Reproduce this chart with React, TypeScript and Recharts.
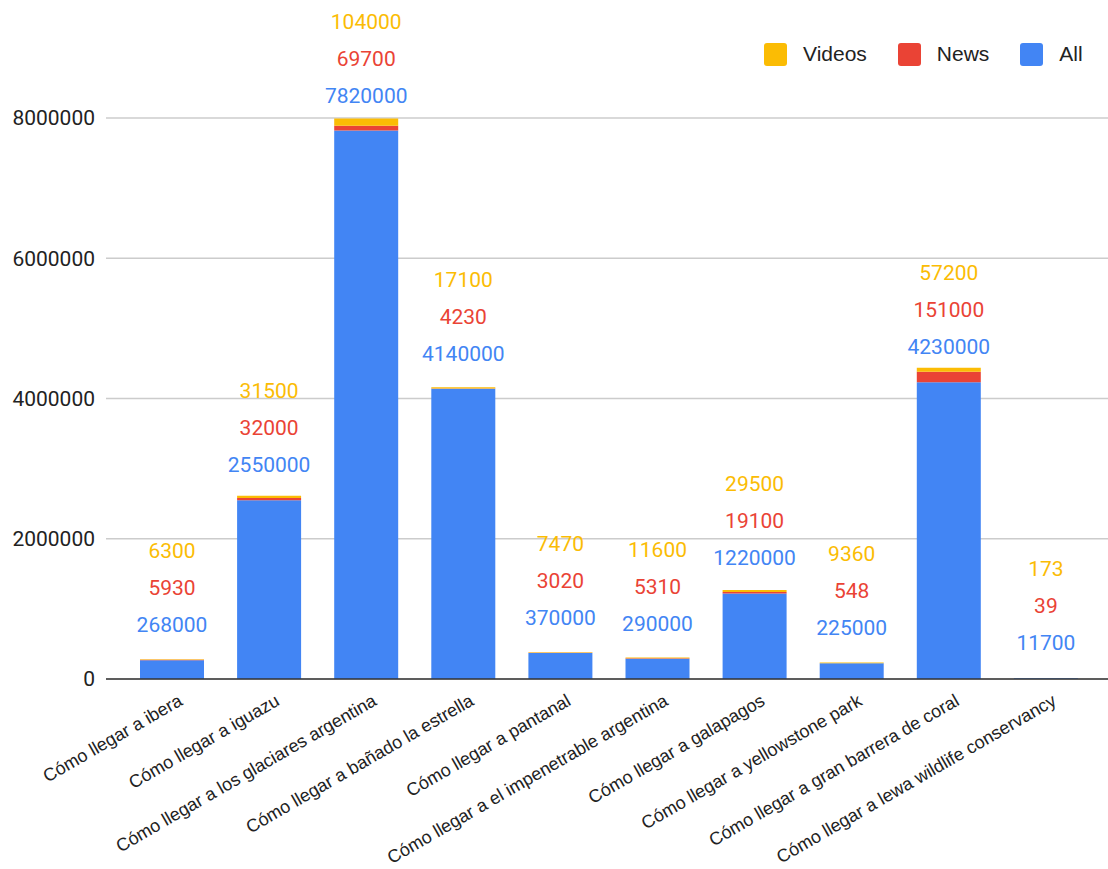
import React from "react";
import { BarChart, Bar, XAxis, YAxis, CartesianGrid, LabelList } from "recharts";

const categories = [
  "Cómo llegar a ibera",
  "Cómo llegar a iguazu",
  "Cómo llegar a los glaciares argentina",
  "Cómo llegar a bañado la estrella",
  "Cómo llegar a pantanal",
  "Cómo llegar a el impenetrable argentina",
  "Cómo llegar a galapagos",
  "Cómo llegar a yellowstone park",
  "Cómo llegar a gran barrera de coral",
  "Cómo llegar a lewa wildlife conservancy",
];
const allValues = [268000, 2550000, 7820000, 4140000, 370000, 290000, 1220000, 225000, 4230000, 11700];
const newsValues = [5930, 32000, 69700, 4230, 3020, 5310, 19100, 548, 151000, 39];
const videoValues = [6300, 31500, 104000, 17100, 7470, 11600, 29500, 9360, 57200, 173];
const yTicks = [0, 2000000, 4000000, 6000000, 8000000];

const series = [
  { key: "videos", name: "Videos", color: "#FBBC04" },
  { key: "news", name: "News", color: "#EA4335" },
  { key: "all", name: "All", color: "#4285F4" },
];
const colorOf = (k: string) => series.find((s) => s.key === k)!.color;

const data = categories.map((name, i) => ({
  name,
  all: allValues[i],
  news: newsValues[i],
  videos: videoValues[i],
}));

const VALUE_FONT = "Roboto, 'Noto Sans', sans-serif";
const TEXT_FONT = "'Liberation Sans', Arial, sans-serif";

// Annotations for all three series, stacked above the "All" segment
const StackLabels = (props: any) => {
  const { x, y, width, index } = props;
  const cx = Number(x) + Number(width) / 2;
  const top = Number(y);
  const rows = [
    { v: allValues[index], c: colorOf("all"), off: 35 },
    { v: newsValues[index], c: colorOf("news"), off: 72 },
    { v: videoValues[index], c: colorOf("videos"), off: 109 },
  ];
  return (
    <g>
      {rows.map((r, k) => (
        <text
          key={k}
          x={cx}
          y={top - r.off}
          textAnchor="middle"
          dominantBaseline="central"
          fill={r.c}
          fontFamily={VALUE_FONT}
          fontSize={21}
        >
          {r.v}
        </text>
      ))}
    </g>
  );
};

const CategoryTick = (props: any) => {
  const { x, y, payload } = props;
  return (
    <g transform={`translate(${x + 9},${y + 20})`}>
      <text
        textAnchor="end"
        dominantBaseline="central"
        transform="rotate(-30)"
        fill="#222"
        fontFamily={TEXT_FONT}
        fontSize={18}
      >
        {payload.value}
      </text>
    </g>
  );
};

export default function App() {
  return (
    <div style={{ position: "absolute", left: 0, top: 0, width: 1108, height: 869, background: "#fff" }}>
      <BarChart
        width={1108}
        height={869}
        data={data}
        margin={{ top: 118, right: 0, bottom: 0, left: 0 }}
      >
        <CartesianGrid vertical={false} stroke="#cccccc" strokeWidth={1.5} />
        <XAxis
          dataKey="name"
          interval={0}
          height={190}
          padding={{ left: 17, right: 14 }}
          tickLine={false}
          tickSize={0}
          tickMargin={0}
          axisLine={{ stroke: "#333", strokeWidth: 1.5 }}
          tick={<CategoryTick />}
        />
        <YAxis
          width={106}
          domain={[0, 8000000]}
          ticks={yTicks}
          axisLine={false}
          tickLine={false}
          tickSize={0}
          tickMargin={11}
          tick={{ fill: "#222", fontFamily: VALUE_FONT, fontSize: 21 }}
        />
        <Bar dataKey="all" stackId="s" fill={colorOf("all")} barSize={64} isAnimationActive={false}>
          <LabelList dataKey="all" content={<StackLabels />} />
        </Bar>
        <Bar dataKey="news" stackId="s" fill={colorOf("news")} barSize={64} isAnimationActive={false} />
        <Bar dataKey="videos" stackId="s" fill={colorOf("videos")} barSize={64} isAnimationActive={false} />
      </BarChart>
      <div
        style={{
          position: "absolute",
          top: 42,
          left: 764,
          display: "flex",
          alignItems: "center",
          fontFamily: TEXT_FONT,
          fontSize: 21,
          color: "#222",
        }}
      >
        {series.map((s) => (
          <div key={s.key} style={{ display: "flex", alignItems: "center", marginRight: 31 }}>
            <span
              style={{
                display: "inline-block",
                width: 23,
                height: 23,
                borderRadius: 3,
                background: s.color,
                marginRight: 16,
              }}
            />
            <span>{s.name}</span>
          </div>
        ))}
      </div>
    </div>
  );
}
